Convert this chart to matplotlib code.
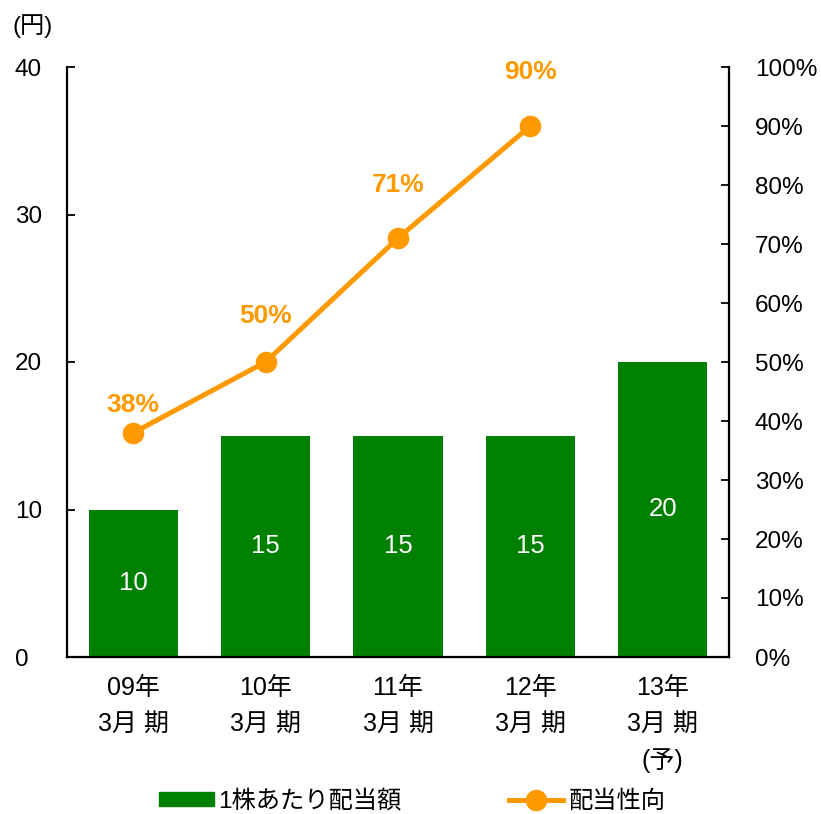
import matplotlib
matplotlib.use("Agg")
import matplotlib.pyplot as plt
from matplotlib.lines import Line2D
from matplotlib.patches import Patch

plt.rcParams['font.family'] = ['Liberation Sans', 'Noto Sans CJK JP', 'DejaVu Sans']

categories = ["09年\n3月 期", "10年\n3月 期", "11年\n3月 期", "12年\n3月 期", "13年\n3月 期\n(予)"]
dividend = [10, 15, 15, 15, 20]
payout_ratio = [38, 50, 71, 90]
payout_labels = ["38%", "50%", "71%", "90%"]
label_offsets = [28, 46, 53, 54]  # px above each point

green = "#008000"
orange = "#FF9900"

fig = plt.figure(figsize=(8.21, 8.14), dpi=100)
ax1 = fig.add_axes([67 / 821, 1 - 657 / 814, 662 / 821, 590 / 814])
ax2 = ax1.twinx()

x = list(range(len(categories)))
bars = ax1.bar(x, dividend, width=0.675, color=green, zorder=2)
for b, v in zip(bars, dividend):
    ax1.text(b.get_x() + b.get_width() / 2, v / 2, str(v), ha="center", va="center",
             color="white", fontsize=18.5)

ax1.set_xlim(-0.5, len(categories) - 0.5)
ax1.set_ylim(0, 40)
ax1.set_yticks([0, 10, 20, 30, 40])
ax1.set_xticks(x)
ax1.set_xticklabels(categories, fontsize=18, linespacing=1.6)
ax1.tick_params(axis="x", length=0, pad=14)
ax1.tick_params(axis="y", direction="in", length=6, width=1.3, labelsize=17.5, pad=37.5)
for lab in ax1.get_yticklabels():
    lab.set_horizontalalignment("left")
ax1.spines["top"].set_visible(False)
ax1.spines["left"].set_linewidth(1.6)
ax1.spines["bottom"].set_linewidth(1.6)

ax2.plot(x[:len(payout_ratio)], payout_ratio, color=orange, lw=3.6, marker="o",
         markersize=14.5, zorder=3)
for xi, v, lab, off in zip(x, payout_ratio, payout_labels, label_offsets):
    ax2.annotate(lab, (xi, v), xytext=(0, off * 0.72), textcoords="offset points",
                 ha="center", va="center", color=orange, fontsize=19, fontweight="bold")
ax2.set_ylim(0, 100)
ax2.set_yticks(range(0, 101, 10))
ax2.set_yticklabels([f"{v}%" for v in range(0, 101, 10)])
ax2.tick_params(axis="y", direction="in", length=6, width=1.3, labelsize=17.5, pad=18.5)
ax2.spines["top"].set_visible(False)
ax2.spines["right"].set_linewidth(1.6)
ax2.spines["left"].set_visible(False)

fig.text(13 / 821, 1 - 26 / 814, "(円)", fontsize=17.5, ha="left", va="center")

handles = [Patch(color=green), Line2D([0], [0], color=orange, lw=3.6, marker="o", markersize=14.5)]
fig.legend(handles, ["1株あたり配当額", "配当性向"], loc="center left",
           bbox_to_anchor=(159 / 821, 1 - 801 / 814), ncol=2, frameon=False, fontsize=17.5,
           handlelength=2.25, handletextpad=0.2, columnspacing=4.4, handleheight=0.5,
           borderpad=0, borderaxespad=0)

fig.savefig("out.png", dpi=100)
